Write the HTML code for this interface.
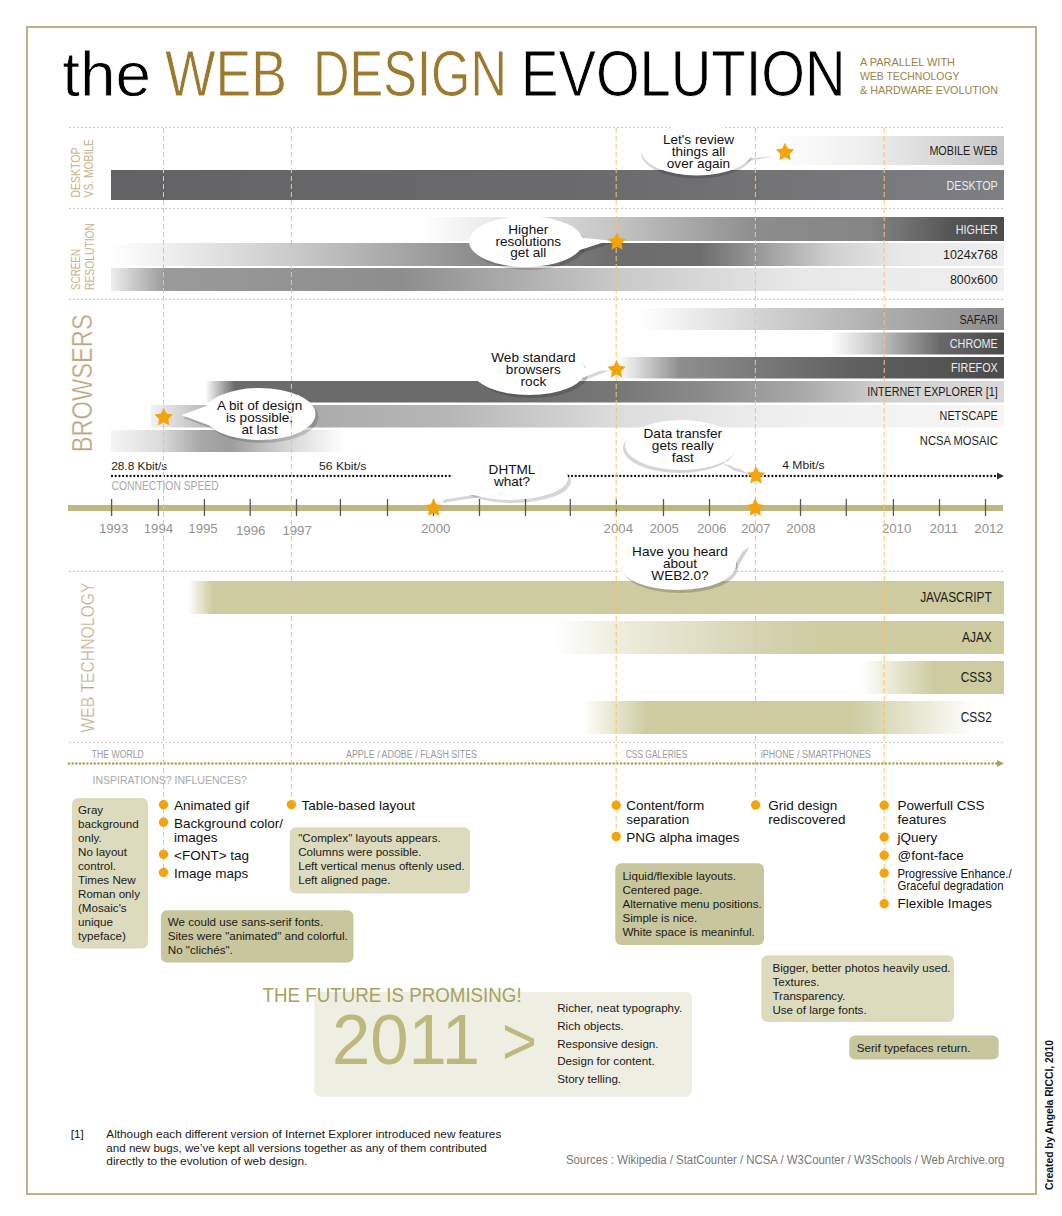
<!DOCTYPE html><html><head><meta charset="utf-8"><style>
html,body{margin:0;padding:0;background:#fff;}
svg{display:block;font-family:"Liberation Sans",sans-serif;}
</style></head><body>
<svg width="1062" height="1216" viewBox="0 0 1062 1216">
<rect x="0" y="0" width="1062" height="1216" fill="#fff"/>

<rect x="27" y="27" width="1009" height="1167" fill="none" stroke="#b9b483" stroke-width="2"/>
<text x="62.30" y="95.70" font-size="63" fill="#000" text-anchor="start" textLength="88.80" lengthAdjust="spacingAndGlyphs" stroke="#fff" stroke-width="0.8">the</text>
<text x="165.00" y="95.70" font-size="65" fill="#9b7a2e" text-anchor="start" textLength="122.00" lengthAdjust="spacingAndGlyphs" stroke="#fff" stroke-width="0.8">WEB</text>
<text x="313.00" y="95.70" font-size="65" fill="#9b7a2e" text-anchor="start" textLength="194.00" lengthAdjust="spacingAndGlyphs" stroke="#fff" stroke-width="0.8">DESIGN</text>
<text x="521.00" y="95.70" font-size="65" fill="#000" text-anchor="start" textLength="324.50" lengthAdjust="spacingAndGlyphs" stroke="#fff" stroke-width="0.8">EVOLUTION</text>
<text x="860.00" y="66.00" font-size="11" fill="#9c8249" text-anchor="start" textLength="95.00" lengthAdjust="spacingAndGlyphs" >A PARALLEL WITH</text>
<text x="860.00" y="79.60" font-size="11" fill="#9c8249" text-anchor="start" textLength="99.50" lengthAdjust="spacingAndGlyphs" >WEB TECHNOLOGY</text>
<text x="860.00" y="93.60" font-size="11" fill="#9c8249" text-anchor="start" textLength="138.00" lengthAdjust="spacingAndGlyphs" >&amp; HARDWARE EVOLUTION</text>
<line x1="69" y1="127.6" x2="1004" y2="127.6" stroke="#c6c6c6" stroke-width="1" stroke-dasharray="2 2"/>
<line x1="69" y1="208.5" x2="1004" y2="208.5" stroke="#c6c6c6" stroke-width="1" stroke-dasharray="2 2"/>
<line x1="69" y1="299.3" x2="1004" y2="299.3" stroke="#c6c6c6" stroke-width="1" stroke-dasharray="2 2"/>
<line x1="69" y1="571.4" x2="1004" y2="571.4" stroke="#c6c6c6" stroke-width="1" stroke-dasharray="2 2"/>
<line x1="69" y1="742.6" x2="1004" y2="742.6" stroke="#c6c6c6" stroke-width="1" stroke-dasharray="2 2"/>
<text transform="translate(79.50,197.50) rotate(-90)" font-size="12.5" fill="#c6b48c" textLength="50.00" lengthAdjust="spacingAndGlyphs" >DESKTOP</text>
<text transform="translate(93.00,197.50) rotate(-90)" font-size="12.5" fill="#c6b48c" textLength="58.50" lengthAdjust="spacingAndGlyphs" >VS. MOBILE</text>
<text transform="translate(80.00,290.00) rotate(-90)" font-size="12.5" fill="#c6b48c" textLength="41.00" lengthAdjust="spacingAndGlyphs" >SCREEN</text>
<text transform="translate(93.50,290.00) rotate(-90)" font-size="12.5" fill="#c6b48c" textLength="67.00" lengthAdjust="spacingAndGlyphs" >RESOLUTION</text>
<text transform="translate(92.40,452.30) rotate(-90)" font-size="29.5" fill="#bba883" textLength="138.00" lengthAdjust="spacingAndGlyphs" stroke="#fff" stroke-width="0.35">BROWSERS</text>
<text transform="translate(93.90,732.50) rotate(-90)" font-size="19.2" fill="#bba883" textLength="150.00" lengthAdjust="spacingAndGlyphs" stroke="#fff" stroke-width="0.35">WEB TECHNOLOGY</text>
<linearGradient id="g1" gradientUnits="userSpaceOnUse" x1="770" y1="0" x2="1004" y2="0"><stop offset="0.0000" stop-color="#ffffff"/><stop offset="0.3846" stop-color="#efefef"/><stop offset="1.0000" stop-color="#c6c6c6"/></linearGradient>
<rect x="770" y="136" width="234" height="29" fill="url(#g1)"/>
<linearGradient id="g2" gradientUnits="userSpaceOnUse" x1="111" y1="0" x2="1004" y2="0"><stop offset="0.0000" stop-color="#636365"/><stop offset="0.5476" stop-color="#6b6b6d"/><stop offset="1.0000" stop-color="#7e7f83"/></linearGradient>
<rect x="111" y="170" width="893" height="30" fill="url(#g2)"/>
<linearGradient id="g3" gradientUnits="userSpaceOnUse" x1="420" y1="0" x2="1004" y2="0"><stop offset="0.0000" stop-color="#ffffff"/><stop offset="0.3373" stop-color="#c4c4c4"/><stop offset="0.5822" stop-color="#8c8c8c"/><stop offset="0.7705" stop-color="#858585"/><stop offset="0.9075" stop-color="#565656"/><stop offset="1.0000" stop-color="#4c4c4c"/></linearGradient>
<rect x="420" y="217" width="584" height="24" fill="url(#g3)"/>
<linearGradient id="g4" gradientUnits="userSpaceOnUse" x1="111" y1="0" x2="1004" y2="0"><stop offset="0.0000" stop-color="#ffffff"/><stop offset="0.2116" stop-color="#c8c8c8"/><stop offset="0.4020" stop-color="#8e8e8e"/><stop offset="0.5666" stop-color="#6d6d6d"/><stop offset="0.6596" stop-color="#6e6e6e"/><stop offset="0.7268" stop-color="#9a9a9a"/><stop offset="0.8052" stop-color="#cfcfcf"/><stop offset="0.8835" stop-color="#e8e8e8"/><stop offset="1.0000" stop-color="#efefef"/></linearGradient>
<rect x="111" y="243" width="893" height="23" fill="url(#g4)"/>
<linearGradient id="g5" gradientUnits="userSpaceOnUse" x1="111" y1="0" x2="1004" y2="0"><stop offset="0.0000" stop-color="#eeeeee"/><stop offset="0.0605" stop-color="#9a9a9a"/><stop offset="0.3236" stop-color="#8d8d8d"/><stop offset="0.5666" stop-color="#c9c9c9"/><stop offset="0.7716" stop-color="#e8e8e8"/><stop offset="1.0000" stop-color="#efefef"/></linearGradient>
<rect x="111" y="268" width="893" height="23" fill="url(#g5)"/>
<linearGradient id="g6" gradientUnits="userSpaceOnUse" x1="640" y1="0" x2="1004" y2="0"><stop offset="0.0000" stop-color="#ffffff"/><stop offset="0.3297" stop-color="#d3d3d3"/><stop offset="0.6593" stop-color="#aeaeae"/><stop offset="1.0000" stop-color="#8d8d8d"/></linearGradient>
<rect x="640" y="308" width="364" height="22" fill="url(#g6)"/>
<linearGradient id="g7" gradientUnits="userSpaceOnUse" x1="830" y1="0" x2="1004" y2="0"><stop offset="0.0000" stop-color="#ffffff"/><stop offset="0.2874" stop-color="#c0c0c0"/><stop offset="0.6322" stop-color="#696969"/><stop offset="1.0000" stop-color="#4a4a4a"/></linearGradient>
<rect x="830" y="332.5" width="174" height="22.0" fill="url(#g7)"/>
<linearGradient id="g8" gradientUnits="userSpaceOnUse" x1="617" y1="0" x2="1004" y2="0"><stop offset="0.0000" stop-color="#ffffff"/><stop offset="0.1628" stop-color="#8e8e8e"/><stop offset="0.6021" stop-color="#616161"/><stop offset="1.0000" stop-color="#4b4b4d"/></linearGradient>
<rect x="617" y="357" width="387" height="21.5" fill="url(#g8)"/>
<linearGradient id="g9" gradientUnits="userSpaceOnUse" x1="205" y1="0" x2="1004" y2="0"><stop offset="0.0000" stop-color="#ffffff"/><stop offset="0.0375" stop-color="#6b6b6b"/><stop offset="0.3692" stop-color="#6b6b6d"/><stop offset="0.5156" stop-color="#777777"/><stop offset="0.6195" stop-color="#8a8a8a"/><stop offset="0.7447" stop-color="#a8a8a8"/><stop offset="0.8448" stop-color="#cfcfcf"/><stop offset="1.0000" stop-color="#dadada"/></linearGradient>
<rect x="205" y="381" width="799" height="21.5" fill="url(#g9)"/>
<linearGradient id="g10" gradientUnits="userSpaceOnUse" x1="151" y1="0" x2="1004" y2="0"><stop offset="0.0000" stop-color="#f2f2f2"/><stop offset="0.0574" stop-color="#c0c0c0"/><stop offset="0.1512" stop-color="#a9a9a9"/><stop offset="0.3505" stop-color="#b6b6b6"/><stop offset="0.5463" stop-color="#dcdcdc"/><stop offset="0.7608" stop-color="#f0f0f0"/><stop offset="1.0000" stop-color="#f6f6f6"/></linearGradient>
<rect x="151" y="405" width="853" height="22.5" fill="url(#g10)"/>
<linearGradient id="g11" gradientUnits="userSpaceOnUse" x1="111" y1="0" x2="1004" y2="0"><stop offset="0.0000" stop-color="#f5f5f5"/><stop offset="0.0549" stop-color="#dcdcdc"/><stop offset="0.0997" stop-color="#a8a8a8"/><stop offset="0.1333" stop-color="#9d9d9d"/><stop offset="0.1892" stop-color="#cfcfcf"/><stop offset="0.2340" stop-color="#eeeeee"/><stop offset="0.2620" stop-color="#ffffff"/><stop offset="1.0000" stop-color="#ffffff"/></linearGradient>
<rect x="111" y="430" width="893" height="22" fill="url(#g11)"/>
<linearGradient id="g12" gradientUnits="userSpaceOnUse" x1="188" y1="0" x2="1004" y2="0"><stop offset="0.0000" stop-color="#ffffff"/><stop offset="0.0306" stop-color="#cdcb9f"/><stop offset="1.0000" stop-color="#cdcb9f"/></linearGradient>
<rect x="188" y="581" width="816" height="33" fill="url(#g12)"/>
<linearGradient id="g13" gradientUnits="userSpaceOnUse" x1="553" y1="0" x2="1004" y2="0"><stop offset="0.0000" stop-color="#ffffff"/><stop offset="0.1419" stop-color="#eeeddf"/><stop offset="0.3259" stop-color="#e0dec4"/><stop offset="0.4590" stop-color="#d5d3b1"/><stop offset="0.6142" stop-color="#cdcb9f"/><stop offset="1.0000" stop-color="#cdcb9f"/></linearGradient>
<rect x="553" y="621" width="451" height="33" fill="url(#g13)"/>
<linearGradient id="g14" gradientUnits="userSpaceOnUse" x1="860" y1="0" x2="1004" y2="0"><stop offset="0.0000" stop-color="#ffffff"/><stop offset="0.5208" stop-color="#cdcb9f"/><stop offset="1.0000" stop-color="#cdcb9f"/></linearGradient>
<rect x="860" y="661" width="144" height="33" fill="url(#g14)"/>
<linearGradient id="g15" gradientUnits="userSpaceOnUse" x1="582" y1="0" x2="1004" y2="0"><stop offset="0.0000" stop-color="#ffffff"/><stop offset="0.1564" stop-color="#cdcb9f"/><stop offset="0.6351" stop-color="#cdcb9f"/><stop offset="0.9313" stop-color="#ffffff"/><stop offset="1.0000" stop-color="#ffffff"/></linearGradient>
<rect x="582" y="701" width="422" height="33" fill="url(#g15)"/>
<text x="997.80" y="155.10" font-size="12" fill="#1e1e1e" text-anchor="end" textLength="68.42" lengthAdjust="spacingAndGlyphs" >MOBILE WEB</text>
<text x="997.80" y="189.90" font-size="12" fill="#ebebeb" text-anchor="end" textLength="51.42" lengthAdjust="spacingAndGlyphs" >DESKTOP</text>
<text x="997.80" y="233.60" font-size="12" fill="#ebebeb" text-anchor="end" textLength="42.00" lengthAdjust="spacingAndGlyphs" >HIGHER</text>
<text x="997.80" y="259.30" font-size="12" fill="#1e1e1e" text-anchor="end" textLength="54.82" lengthAdjust="spacingAndGlyphs" >1024x768</text>
<text x="997.80" y="284.00" font-size="12" fill="#1e1e1e" text-anchor="end" textLength="47.88" lengthAdjust="spacingAndGlyphs" >800x600</text>
<text x="997.80" y="323.70" font-size="12" fill="#1e1e1e" text-anchor="end" textLength="38.41" lengthAdjust="spacingAndGlyphs" >SAFARI</text>
<text x="997.80" y="348.00" font-size="12" fill="#ebebeb" text-anchor="end" textLength="48.00" lengthAdjust="spacingAndGlyphs" >CHROME</text>
<text x="997.80" y="372.00" font-size="12" fill="#ebebeb" text-anchor="end" textLength="46.80" lengthAdjust="spacingAndGlyphs" >FIREFOX</text>
<text x="997.80" y="396.20" font-size="12" fill="#1e1e1e" text-anchor="end" textLength="130.64" lengthAdjust="spacingAndGlyphs" >INTERNET EXPLORER [1]</text>
<text x="997.80" y="419.80" font-size="12" fill="#1e1e1e" text-anchor="end" textLength="58.22" lengthAdjust="spacingAndGlyphs" >NETSCAPE</text>
<text x="997.80" y="445.00" font-size="12" fill="#1e1e1e" text-anchor="end" textLength="78.02" lengthAdjust="spacingAndGlyphs" >NCSA  MOSAIC</text>
<text x="991.80" y="601.90" font-size="14" fill="#1e1e1e" text-anchor="end" textLength="71.63" lengthAdjust="spacingAndGlyphs" >JAVASCRIPT</text>
<text x="991.80" y="641.80" font-size="14" fill="#1e1e1e" text-anchor="end" textLength="29.76" lengthAdjust="spacingAndGlyphs" >AJAX</text>
<text x="991.80" y="681.50" font-size="14" fill="#1e1e1e" text-anchor="end" textLength="31.09" lengthAdjust="spacingAndGlyphs" >CSS3</text>
<text x="991.80" y="721.80" font-size="14" fill="#1e1e1e" text-anchor="end" textLength="31.09" lengthAdjust="spacingAndGlyphs" >CSS2</text>
<text x="111.20" y="470.00" font-size="11.5" fill="#1e1e1e" text-anchor="start" textLength="56.00" lengthAdjust="spacingAndGlyphs" >28.8 Kbit/s</text>
<text x="319.00" y="470.00" font-size="11.5" fill="#1e1e1e" text-anchor="start" textLength="47.43" lengthAdjust="spacingAndGlyphs" >56 Kbit/s</text>
<text x="782.30" y="469.00" font-size="11.5" fill="#1e1e1e" text-anchor="start" textLength="42.30" lengthAdjust="spacingAndGlyphs" >4 Mbit/s</text>
<line x1="112" y1="476" x2="998" y2="476" stroke="#111" stroke-width="2.3" stroke-linecap="round" stroke-dasharray="0.01 3.7"/>
<polygon points="997,472.5 1004,476 997,479.5" fill="#333"/>
<text x="111.60" y="490.00" font-size="12" fill="#a9a9a9" text-anchor="start" textLength="107.00" lengthAdjust="spacingAndGlyphs" >CONNECTION SPEED</text>
<rect x="68" y="505" width="935" height="6" fill="#bdb880"/>
<line x1="111.6" y1="499" x2="111.6" y2="516" stroke="#585858" stroke-width="1.3"/>
<line x1="158.4" y1="499" x2="158.4" y2="516" stroke="#585858" stroke-width="1.3"/>
<line x1="204.4" y1="499" x2="204.4" y2="516" stroke="#585858" stroke-width="1.3"/>
<line x1="250.2" y1="499" x2="250.2" y2="516" stroke="#585858" stroke-width="1.3"/>
<line x1="296.5" y1="499" x2="296.5" y2="516" stroke="#585858" stroke-width="1.3"/>
<line x1="340.4" y1="499" x2="340.4" y2="516" stroke="#585858" stroke-width="1.3"/>
<line x1="387.5" y1="499" x2="387.5" y2="516" stroke="#585858" stroke-width="1.3"/>
<line x1="433.5" y1="499" x2="433.5" y2="516" stroke="#585858" stroke-width="1.3"/>
<line x1="479.5" y1="499" x2="479.5" y2="516" stroke="#585858" stroke-width="1.3"/>
<line x1="525.5" y1="499" x2="525.5" y2="516" stroke="#585858" stroke-width="1.3"/>
<line x1="570.3" y1="499" x2="570.3" y2="516" stroke="#585858" stroke-width="1.3"/>
<line x1="616.4" y1="499" x2="616.4" y2="516" stroke="#585858" stroke-width="1.3"/>
<line x1="663.5" y1="499" x2="663.5" y2="516" stroke="#585858" stroke-width="1.3"/>
<line x1="709.5" y1="499" x2="709.5" y2="516" stroke="#585858" stroke-width="1.3"/>
<line x1="755.3" y1="499" x2="755.3" y2="516" stroke="#585858" stroke-width="1.3"/>
<line x1="800.5" y1="499" x2="800.5" y2="516" stroke="#585858" stroke-width="1.3"/>
<line x1="846.3" y1="499" x2="846.3" y2="516" stroke="#585858" stroke-width="1.3"/>
<line x1="893.4" y1="499" x2="893.4" y2="516" stroke="#585858" stroke-width="1.3"/>
<line x1="939.5" y1="499" x2="939.5" y2="516" stroke="#585858" stroke-width="1.3"/>
<line x1="985.5" y1="499" x2="985.5" y2="516" stroke="#585858" stroke-width="1.3"/>
<text x="113.60" y="533.20" font-size="13.5" fill="#939393" text-anchor="middle" textLength="29.43" lengthAdjust="spacingAndGlyphs" >1993</text>
<text x="158.40" y="533.20" font-size="13.5" fill="#939393" text-anchor="middle" textLength="29.43" lengthAdjust="spacingAndGlyphs" >1994</text>
<text x="203.00" y="533.20" font-size="13.5" fill="#939393" text-anchor="middle" textLength="29.43" lengthAdjust="spacingAndGlyphs" >1995</text>
<text x="250.70" y="534.50" font-size="13.5" fill="#939393" text-anchor="middle" textLength="29.43" lengthAdjust="spacingAndGlyphs" >1996</text>
<text x="297.10" y="534.50" font-size="13.5" fill="#939393" text-anchor="middle" textLength="29.43" lengthAdjust="spacingAndGlyphs" >1997</text>
<text x="435.70" y="533.20" font-size="13.5" fill="#939393" text-anchor="middle" textLength="29.43" lengthAdjust="spacingAndGlyphs" >2000</text>
<text x="618.30" y="533.20" font-size="13.5" fill="#939393" text-anchor="middle" textLength="29.43" lengthAdjust="spacingAndGlyphs" >2004</text>
<text x="664.20" y="533.20" font-size="13.5" fill="#939393" text-anchor="middle" textLength="29.43" lengthAdjust="spacingAndGlyphs" >2005</text>
<text x="711.70" y="533.20" font-size="13.5" fill="#939393" text-anchor="middle" textLength="29.43" lengthAdjust="spacingAndGlyphs" >2006</text>
<text x="755.70" y="533.20" font-size="13.5" fill="#939393" text-anchor="middle" textLength="29.43" lengthAdjust="spacingAndGlyphs" >2007</text>
<text x="800.90" y="533.20" font-size="13.5" fill="#939393" text-anchor="middle" textLength="29.43" lengthAdjust="spacingAndGlyphs" >2008</text>
<text x="896.60" y="533.20" font-size="13.5" fill="#939393" text-anchor="middle" textLength="29.43" lengthAdjust="spacingAndGlyphs" >2010</text>
<text x="943.80" y="533.20" font-size="13.5" fill="#939393" text-anchor="middle" textLength="28.45" lengthAdjust="spacingAndGlyphs" >2011</text>
<text x="989.00" y="533.20" font-size="13.5" fill="#939393" text-anchor="middle" textLength="29.43" lengthAdjust="spacingAndGlyphs" >2012</text>
<line x1="69" y1="763.5" x2="998" y2="763.5" stroke="#a9a257" stroke-width="2.6" stroke-linecap="round" stroke-dasharray="0.01 3.67"/>
<polygon points="997,760 1004,763.5 997,767" fill="#aaa35a"/>
<text x="91.80" y="757.50" font-size="10" fill="#9a9a9a" text-anchor="start" textLength="52.00" lengthAdjust="spacingAndGlyphs" >THE WORLD</text>
<text x="346.00" y="757.50" font-size="10" fill="#9a9a9a" text-anchor="start" textLength="131.00" lengthAdjust="spacingAndGlyphs" >APPLE / ADOBE / FLASH SITES</text>
<text x="625.80" y="757.50" font-size="10" fill="#9a9a9a" text-anchor="start" textLength="61.50" lengthAdjust="spacingAndGlyphs" >CSS GALERIES</text>
<text x="760.80" y="757.50" font-size="10" fill="#9a9a9a" text-anchor="start" textLength="110.00" lengthAdjust="spacingAndGlyphs" >iPHONE / SMARTPHONES</text>
<text x="92.50" y="783.70" font-size="11.5" fill="#a9a9a9" text-anchor="start" textLength="154.40" lengthAdjust="spacingAndGlyphs" >INSPIRATIONS? INFLUENCES?</text>
<g fill="rgba(0,0,0,0.16)"><polygon transform="translate(0,3.5)" points="728,166 748,155 775,152.5 752,157"/></g>
<ellipse cx="697" cy="153" rx="56" ry="25.5" fill="rgba(0,0,0,0.16)"/>
<polygon points="728,166 748,155 775,152.5 752,157" fill="#fff"/>
<ellipse cx="697" cy="150" rx="56" ry="25.5" fill="#fff"/>
<text x="698.50" y="143.70" font-size="13.3" fill="#111" text-anchor="middle" textLength="71.20" lengthAdjust="spacingAndGlyphs" >Let&#x27;s review</text>
<text x="698.50" y="156.00" font-size="13.3" fill="#111" text-anchor="middle" textLength="53.54" lengthAdjust="spacingAndGlyphs" >things all</text>
<text x="698.50" y="167.50" font-size="13.3" fill="#111" text-anchor="middle" textLength="63.35" lengthAdjust="spacingAndGlyphs" >over again</text>
<g fill="rgba(0,0,0,0.16)"><polygon transform="translate(2,3)" points="575,237 609,240.5 580,250"/></g>
<ellipse cx="529" cy="244.5" rx="57" ry="25.5" fill="rgba(0,0,0,0.16)"/>
<polygon points="575,237 609,240.5 580,250" fill="#fff"/>
<ellipse cx="526" cy="241.5" rx="57" ry="25.5" fill="#fff"/>
<text x="528.30" y="233.90" font-size="13.3" fill="#111" text-anchor="middle" textLength="39.96" lengthAdjust="spacingAndGlyphs" >Higher</text>
<text x="528.30" y="245.70" font-size="13.3" fill="#111" text-anchor="middle" textLength="65.61" lengthAdjust="spacingAndGlyphs" >resolutions</text>
<text x="528.30" y="257.40" font-size="13.3" fill="#111" text-anchor="middle" textLength="36.20" lengthAdjust="spacingAndGlyphs" >get all</text>
<g fill="rgba(0,0,0,0.16)"><polygon transform="translate(1,3)" points="578,368 608,367.5 582,378"/></g>
<ellipse cx="532" cy="374" rx="56" ry="24" fill="rgba(0,0,0,0.16)"/>
<polygon points="578,368 608,367.5 582,378" fill="#fff"/>
<ellipse cx="529" cy="371" rx="56" ry="24" fill="#fff"/>
<text x="533.40" y="361.60" font-size="13.3" fill="#111" text-anchor="middle" textLength="84.21" lengthAdjust="spacingAndGlyphs" >Web standard</text>
<text x="533.40" y="373.80" font-size="13.3" fill="#111" text-anchor="middle" textLength="55.03" lengthAdjust="spacingAndGlyphs" >browsers</text>
<text x="533.40" y="385.80" font-size="13.3" fill="#111" text-anchor="middle" textLength="25.63" lengthAdjust="spacingAndGlyphs" >rock</text>
<g fill="rgba(0,0,0,0.16)"><polygon transform="translate(2,3)" points="208,405.5 181.3,415 212,426.6"/></g>
<ellipse cx="262.5" cy="417" rx="56" ry="26" fill="rgba(0,0,0,0.16)"/>
<polygon points="208,405.5 181.3,415 212,426.6" fill="#fff"/>
<ellipse cx="259.5" cy="414" rx="56" ry="26" fill="#fff"/>
<text x="259.60" y="410.00" font-size="13.3" fill="#111" text-anchor="middle" textLength="85.22" lengthAdjust="spacingAndGlyphs" >A bit of design</text>
<text x="259.60" y="422.10" font-size="13.3" fill="#111" text-anchor="middle" textLength="67.11" lengthAdjust="spacingAndGlyphs" >is possible,</text>
<text x="259.60" y="433.60" font-size="13.3" fill="#111" text-anchor="middle" textLength="36.19" lengthAdjust="spacingAndGlyphs" >at last</text>
<g fill="rgba(0,0,0,0.16)"><polygon transform="translate(0,3)" points="722,460 738,465 749,471 735,468"/></g>
<ellipse cx="679.5" cy="448" rx="56.5" ry="25" fill="rgba(0,0,0,0.16)"/>
<polygon points="722,460 738,465 749,471 735,468" fill="#fff"/>
<ellipse cx="681.5" cy="445" rx="56.5" ry="25" fill="#fff"/>
<text x="682.80" y="438.00" font-size="13.3" fill="#111" text-anchor="middle" textLength="78.42" lengthAdjust="spacingAndGlyphs" >Data transfer</text>
<text x="682.80" y="450.00" font-size="13.3" fill="#111" text-anchor="middle" textLength="61.83" lengthAdjust="spacingAndGlyphs" >gets really</text>
<text x="682.80" y="461.50" font-size="13.3" fill="#111" text-anchor="middle" textLength="21.87" lengthAdjust="spacingAndGlyphs" >fast</text>
<g fill="rgba(0,0,0,0.16)"><polygon transform="translate(1,3)" points="470,488 449,489 441,500 480,494"/></g>
<ellipse cx="513" cy="481" rx="58" ry="22" fill="rgba(0,0,0,0.16)"/>
<polygon points="470,488 449,489 441,500 480,494" fill="#fff"/>
<ellipse cx="510" cy="478" rx="58" ry="22" fill="#fff"/>
<text x="512.00" y="474.30" font-size="13.3" fill="#111" text-anchor="middle" textLength="46.73" lengthAdjust="spacingAndGlyphs" >DHTML</text>
<text x="512.00" y="486.00" font-size="13.3" fill="#111" text-anchor="middle" textLength="36.20" lengthAdjust="spacingAndGlyphs" >what?</text>
<g fill="rgba(0,0,0,0.18)"><polygon transform="translate(3,2)" points="725,558 746.5,545 733,568"/></g>
<ellipse cx="680" cy="568" rx="58" ry="25" fill="rgba(0,0,0,0.18)"/>
<polygon points="725,558 746.5,545 733,568" fill="#fff"/>
<ellipse cx="678" cy="565" rx="58" ry="25" fill="#fff"/>
<text x="680.00" y="556.40" font-size="13.3" fill="#111" text-anchor="middle" textLength="95.78" lengthAdjust="spacingAndGlyphs" >Have you heard</text>
<text x="680.00" y="568.40" font-size="13.3" fill="#111" text-anchor="middle" textLength="33.95" lengthAdjust="spacingAndGlyphs" >about</text>
<text x="680.00" y="580.40" font-size="13.3" fill="#111" text-anchor="middle" textLength="57.30" lengthAdjust="spacingAndGlyphs" >WEB2.0?</text>
<line x1="163.5" y1="128" x2="163.5" y2="872.5" stroke="#f7c469" stroke-width="1" stroke-dasharray="5 3"/>
<line x1="291.4" y1="128" x2="291.4" y2="804.6" stroke="#f7c469" stroke-width="1" stroke-dasharray="5 3"/>
<line x1="616.2" y1="128" x2="616.2" y2="836.5" stroke="#f7c469" stroke-width="1" stroke-dasharray="5 3"/>
<line x1="755.4" y1="128" x2="755.4" y2="805" stroke="#f7c469" stroke-width="1" stroke-dasharray="5 3"/>
<line x1="884.2" y1="128" x2="884.2" y2="903.7" stroke="#f7c469" stroke-width="1" stroke-dasharray="5 3"/>
<polygon points="785.00,142.80 787.82,148.52 794.13,149.43 789.57,153.88 790.64,160.17 785.00,157.20 779.36,160.17 780.43,153.88 775.87,149.43 782.18,148.52" fill="#f5a30a"/>
<polygon points="617.00,232.40 619.82,238.12 626.13,239.03 621.57,243.48 622.64,249.77 617.00,246.80 611.36,249.77 612.43,243.48 607.87,239.03 614.18,238.12" fill="#f5a30a"/>
<polygon points="616.50,360.10 619.32,365.82 625.63,366.73 621.07,371.18 622.14,377.47 616.50,374.50 610.86,377.47 611.93,371.18 607.37,366.73 613.68,365.82" fill="#f5a30a"/>
<polygon points="163.70,407.90 166.52,413.62 172.83,414.53 168.27,418.98 169.34,425.27 163.70,422.30 158.06,425.27 159.13,418.98 154.57,414.53 160.88,413.62" fill="#f5a30a"/>
<polygon points="756.00,466.20 758.82,471.92 765.13,472.83 760.57,477.28 761.64,483.57 756.00,480.60 750.36,483.57 751.43,477.28 746.87,472.83 753.18,471.92" fill="#f5a30a"/>
<polygon points="433.60,498.50 436.42,504.22 442.73,505.13 438.17,509.58 439.24,515.87 433.60,512.90 427.96,515.87 429.03,509.58 424.47,505.13 430.78,504.22" fill="#f5a30a"/>
<polygon points="755.30,498.40 758.12,504.12 764.43,505.03 759.87,509.48 760.94,515.77 755.30,512.80 749.66,515.77 750.73,509.48 746.17,505.03 752.48,504.12" fill="#f5a30a"/>
<circle cx="163.5" cy="804.7" r="4.7" fill="#f5a30a"/>
<text x="174.10" y="809.90" font-size="13.5" fill="#111" text-anchor="start" textLength="75.04" lengthAdjust="spacingAndGlyphs" >Animated gif</text>
<circle cx="163.5" cy="822.3" r="4.7" fill="#f5a30a"/>
<text x="174.10" y="828.00" font-size="13.5" fill="#111" text-anchor="start" textLength="108.81" lengthAdjust="spacingAndGlyphs" >Background color/</text>
<text x="174.10" y="841.50" font-size="13.5" fill="#111" text-anchor="start" textLength="43.52" lengthAdjust="spacingAndGlyphs" >images</text>
<circle cx="163.5" cy="854.4" r="4.7" fill="#f5a30a"/>
<text x="174.10" y="859.60" font-size="13.5" fill="#111" text-anchor="start" textLength="75.03" lengthAdjust="spacingAndGlyphs" >&lt;FONT&gt; tag</text>
<circle cx="163.5" cy="872.5" r="4.7" fill="#f5a30a"/>
<text x="174.10" y="877.70" font-size="13.5" fill="#111" text-anchor="start" textLength="74.28" lengthAdjust="spacingAndGlyphs" >Image maps</text>
<circle cx="291.4" cy="804.6" r="4.7" fill="#f5a30a"/>
<text x="301.60" y="810.20" font-size="13.5" fill="#111" text-anchor="start" textLength="113.32" lengthAdjust="spacingAndGlyphs" >Table-based layout</text>
<circle cx="616.2" cy="805.3" r="4.7" fill="#f5a30a"/>
<text x="626.20" y="810.30" font-size="13.5" fill="#111" text-anchor="start" textLength="78.03" lengthAdjust="spacingAndGlyphs" >Content/form</text>
<text x="626.20" y="823.80" font-size="13.5" fill="#111" text-anchor="start" textLength="63.04" lengthAdjust="spacingAndGlyphs" >separation</text>
<circle cx="616.2" cy="836.5" r="4.7" fill="#f5a30a"/>
<text x="626.20" y="842.00" font-size="13.5" fill="#111" text-anchor="start" textLength="113.30" lengthAdjust="spacingAndGlyphs" >PNG alpha images</text>
<circle cx="755.6" cy="805" r="4.7" fill="#f5a30a"/>
<text x="768.30" y="810.30" font-size="13.5" fill="#111" text-anchor="start" textLength="69.03" lengthAdjust="spacingAndGlyphs" >Grid design</text>
<text x="768.30" y="823.80" font-size="13.5" fill="#111" text-anchor="start" textLength="77.29" lengthAdjust="spacingAndGlyphs" >rediscovered</text>
<circle cx="884.2" cy="805.3" r="4.7" fill="#f5a30a"/>
<text x="897.50" y="809.80" font-size="13.5" fill="#111" text-anchor="start" textLength="87.03" lengthAdjust="spacingAndGlyphs" >Powerfull CSS</text>
<text x="897.50" y="823.60" font-size="13.5" fill="#111" text-anchor="start" textLength="48.78" lengthAdjust="spacingAndGlyphs" >features</text>
<circle cx="884.2" cy="837" r="4.7" fill="#f5a30a"/>
<text x="897.50" y="842.10" font-size="13.5" fill="#111" text-anchor="start" textLength="39.76" lengthAdjust="spacingAndGlyphs" >jQuery</text>
<circle cx="884.2" cy="855.3" r="4.7" fill="#f5a30a"/>
<text x="897.50" y="860.00" font-size="13.5" fill="#111" text-anchor="start" textLength="66.23" lengthAdjust="spacingAndGlyphs" >@font-face</text>
<circle cx="884.2" cy="873.1" r="4.7" fill="#f5a30a"/>
<text x="897.50" y="877.70" font-size="12.2" fill="#111" text-anchor="start" textLength="114.15" lengthAdjust="spacingAndGlyphs" >Progressive Enhance./</text>
<text x="897.50" y="889.70" font-size="12.2" fill="#111" text-anchor="start" textLength="105.96" lengthAdjust="spacingAndGlyphs" >Graceful degradation</text>
<circle cx="884.2" cy="903.7" r="4.7" fill="#f5a30a"/>
<text x="897.50" y="908.20" font-size="13.5" fill="#111" text-anchor="start" textLength="94.54" lengthAdjust="spacingAndGlyphs" >Flexible Images</text>
<rect x="72" y="798" width="76.0" height="150.6" rx="6" ry="6" fill="#dcdbbd"/>
<text x="78.00" y="813.70" font-size="11.5" fill="#1a1a1a" text-anchor="start" textLength="25.17" lengthAdjust="spacingAndGlyphs" >Gray</text>
<text x="78.00" y="827.70" font-size="11.5" fill="#1a1a1a" text-anchor="start" textLength="60.70" lengthAdjust="spacingAndGlyphs" >background</text>
<text x="78.00" y="841.70" font-size="11.5" fill="#1a1a1a" text-anchor="start" textLength="23.67" lengthAdjust="spacingAndGlyphs" >only.</text>
<text x="78.00" y="855.70" font-size="11.5" fill="#1a1a1a" text-anchor="start" textLength="49.07" lengthAdjust="spacingAndGlyphs" >No layout</text>
<text x="78.00" y="869.70" font-size="11.5" fill="#1a1a1a" text-anchor="start" textLength="38.09" lengthAdjust="spacingAndGlyphs" >control.</text>
<text x="78.00" y="883.70" font-size="11.5" fill="#1a1a1a" text-anchor="start" textLength="57.65" lengthAdjust="spacingAndGlyphs" >Times New</text>
<text x="78.00" y="897.70" font-size="11.5" fill="#1a1a1a" text-anchor="start" textLength="61.97" lengthAdjust="spacingAndGlyphs" >Roman only</text>
<text x="78.00" y="911.70" font-size="11.5" fill="#1a1a1a" text-anchor="start" textLength="48.68" lengthAdjust="spacingAndGlyphs" >(Mosaic&#x27;s</text>
<text x="78.00" y="925.70" font-size="11.5" fill="#1a1a1a" text-anchor="start" textLength="34.88" lengthAdjust="spacingAndGlyphs" >unique</text>
<text x="78.00" y="939.70" font-size="11.5" fill="#1a1a1a" text-anchor="start" textLength="47.77" lengthAdjust="spacingAndGlyphs" >typeface)</text>
<rect x="289.8" y="827.3" width="180.2" height="66.2" rx="6" ry="6" fill="#dcdbbd"/>
<text x="298.20" y="841.90" font-size="11.5" fill="#1a1a1a" text-anchor="start" textLength="142.53" lengthAdjust="spacingAndGlyphs" >&quot;Complex&quot; layouts appears.</text>
<text x="298.20" y="855.90" font-size="11.5" fill="#1a1a1a" text-anchor="start" textLength="123.30" lengthAdjust="spacingAndGlyphs" >Columns were possible.</text>
<text x="298.20" y="869.90" font-size="11.5" fill="#1a1a1a" text-anchor="start" textLength="166.56" lengthAdjust="spacingAndGlyphs" >Left vertical menus oftenly used.</text>
<text x="298.20" y="883.90" font-size="11.5" fill="#1a1a1a" text-anchor="start" textLength="92.35" lengthAdjust="spacingAndGlyphs" >Left aligned page.</text>
<rect x="160.9" y="910.3" width="192.6" height="52.2" rx="6" ry="6" fill="#c8c69c"/>
<text x="167.80" y="925.60" font-size="11.5" fill="#1a1a1a" text-anchor="start" textLength="155.36" lengthAdjust="spacingAndGlyphs" >We could use sans-serif fonts.</text>
<text x="167.80" y="939.60" font-size="11.5" fill="#1a1a1a" text-anchor="start" textLength="179.98" lengthAdjust="spacingAndGlyphs" >Sites were &quot;animated&quot; and colorful.</text>
<text x="167.80" y="953.60" font-size="11.5" fill="#1a1a1a" text-anchor="start" textLength="65.05" lengthAdjust="spacingAndGlyphs" >No &quot;clichés&quot;.</text>
<rect x="615.3" y="863.2" width="148.7" height="81.8" rx="6" ry="6" fill="#c8c69c"/>
<text x="622.40" y="880.30" font-size="11.5" fill="#1a1a1a" text-anchor="start" textLength="113.63" lengthAdjust="spacingAndGlyphs" >Liquid/flexible layouts.</text>
<text x="622.40" y="894.30" font-size="11.5" fill="#1a1a1a" text-anchor="start" textLength="80.07" lengthAdjust="spacingAndGlyphs" >Centered page.</text>
<text x="622.40" y="908.30" font-size="11.5" fill="#1a1a1a" text-anchor="start" textLength="139.45" lengthAdjust="spacingAndGlyphs" >Alternative menu positions.</text>
<text x="622.40" y="922.30" font-size="11.5" fill="#1a1a1a" text-anchor="start" textLength="74.88" lengthAdjust="spacingAndGlyphs" >Simple is nice.</text>
<text x="622.40" y="936.30" font-size="11.5" fill="#1a1a1a" text-anchor="start" textLength="132.34" lengthAdjust="spacingAndGlyphs" >White space is meaninful.</text>
<rect x="761.4" y="955.3" width="192.6" height="66.6" rx="6" ry="6" fill="#dcdbbd"/>
<text x="772.40" y="971.80" font-size="11.5" fill="#1a1a1a" text-anchor="start" textLength="178.21" lengthAdjust="spacingAndGlyphs" >Bigger, better photos heavily used.</text>
<text x="772.40" y="985.80" font-size="11.5" fill="#1a1a1a" text-anchor="start" textLength="47.12" lengthAdjust="spacingAndGlyphs" >Textures.</text>
<text x="772.40" y="999.80" font-size="11.5" fill="#1a1a1a" text-anchor="start" textLength="72.94" lengthAdjust="spacingAndGlyphs" >Transparency.</text>
<text x="772.40" y="1013.80" font-size="11.5" fill="#1a1a1a" text-anchor="start" textLength="94.26" lengthAdjust="spacingAndGlyphs" >Use of large fonts.</text>
<rect x="849.2" y="1035.4" width="149.5" height="24.1" rx="6" ry="6" fill="#c8c69c"/>
<text x="856.80" y="1051.90" font-size="11.5" fill="#1a1a1a" text-anchor="start" textLength="113.62" lengthAdjust="spacingAndGlyphs" >Serif typefaces return.</text>
<rect x="314.1" y="991.9" width="377.9" height="104.8" rx="6" ry="6" fill="#efeee3"/>
<text x="262.60" y="1002.00" font-size="20.5" fill="#a7a15c" text-anchor="start" textLength="259.00" lengthAdjust="spacingAndGlyphs" >THE FUTURE IS PROMISING!</text>
<text x="332.00" y="1064.20" font-size="70" fill="#bcb87e" text-anchor="start" textLength="148.00" lengthAdjust="spacingAndGlyphs" >2011</text>
<text x="502.00" y="1063.70" font-size="67" fill="#bcb87e" text-anchor="start" textLength="35.00" lengthAdjust="spacingAndGlyphs" >&gt;</text>
<text x="557.20" y="1011.90" font-size="11.5" fill="#1a1a1a" text-anchor="start" textLength="125.04" lengthAdjust="spacingAndGlyphs" >Richer, neat typography.</text>
<text x="557.20" y="1029.70" font-size="11.5" fill="#1a1a1a" text-anchor="start" textLength="66.49" lengthAdjust="spacingAndGlyphs" >Rich objects.</text>
<text x="557.20" y="1047.50" font-size="11.5" fill="#1a1a1a" text-anchor="start" textLength="101.37" lengthAdjust="spacingAndGlyphs" >Responsive design.</text>
<text x="557.20" y="1065.30" font-size="11.5" fill="#1a1a1a" text-anchor="start" textLength="97.49" lengthAdjust="spacingAndGlyphs" >Design for content.</text>
<text x="557.20" y="1083.10" font-size="11.5" fill="#1a1a1a" text-anchor="start" textLength="63.91" lengthAdjust="spacingAndGlyphs" >Story telling.</text>
<text x="70.80" y="1137.50" font-size="11.5" fill="#1a1a1a" text-anchor="start" textLength="13.04" lengthAdjust="spacingAndGlyphs" >[1]</text>
<text x="106.30" y="1137.50" font-size="11.5" fill="#1a1a1a" text-anchor="start" textLength="395.00" lengthAdjust="spacingAndGlyphs" >Although each different version of Internet Explorer introduced new features</text>
<text x="106.30" y="1151.80" font-size="11.5" fill="#1a1a1a" text-anchor="start" textLength="380.50" lengthAdjust="spacingAndGlyphs" >and new bugs, we’ve kept all versions together as any of them contributed</text>
<text x="106.30" y="1165.20" font-size="11.5" fill="#1a1a1a" text-anchor="start" textLength="201.00" lengthAdjust="spacingAndGlyphs" >directly to the evolution of web design.</text>
<text x="565.90" y="1164.40" font-size="12" fill="#777777" text-anchor="start" textLength="438.50" lengthAdjust="spacingAndGlyphs" >Sources : Wikipedia / StatCounter / NCSA / W3Counter / W3Schools / Web Archive.org</text>
<text transform="translate(1053.00,1190.00) rotate(-90)" font-size="11" fill="#111" textLength="150.00" lengthAdjust="spacingAndGlyphs" font-weight="bold" >Created by Angela RICCI, 2010</text>
</svg></body></html>
